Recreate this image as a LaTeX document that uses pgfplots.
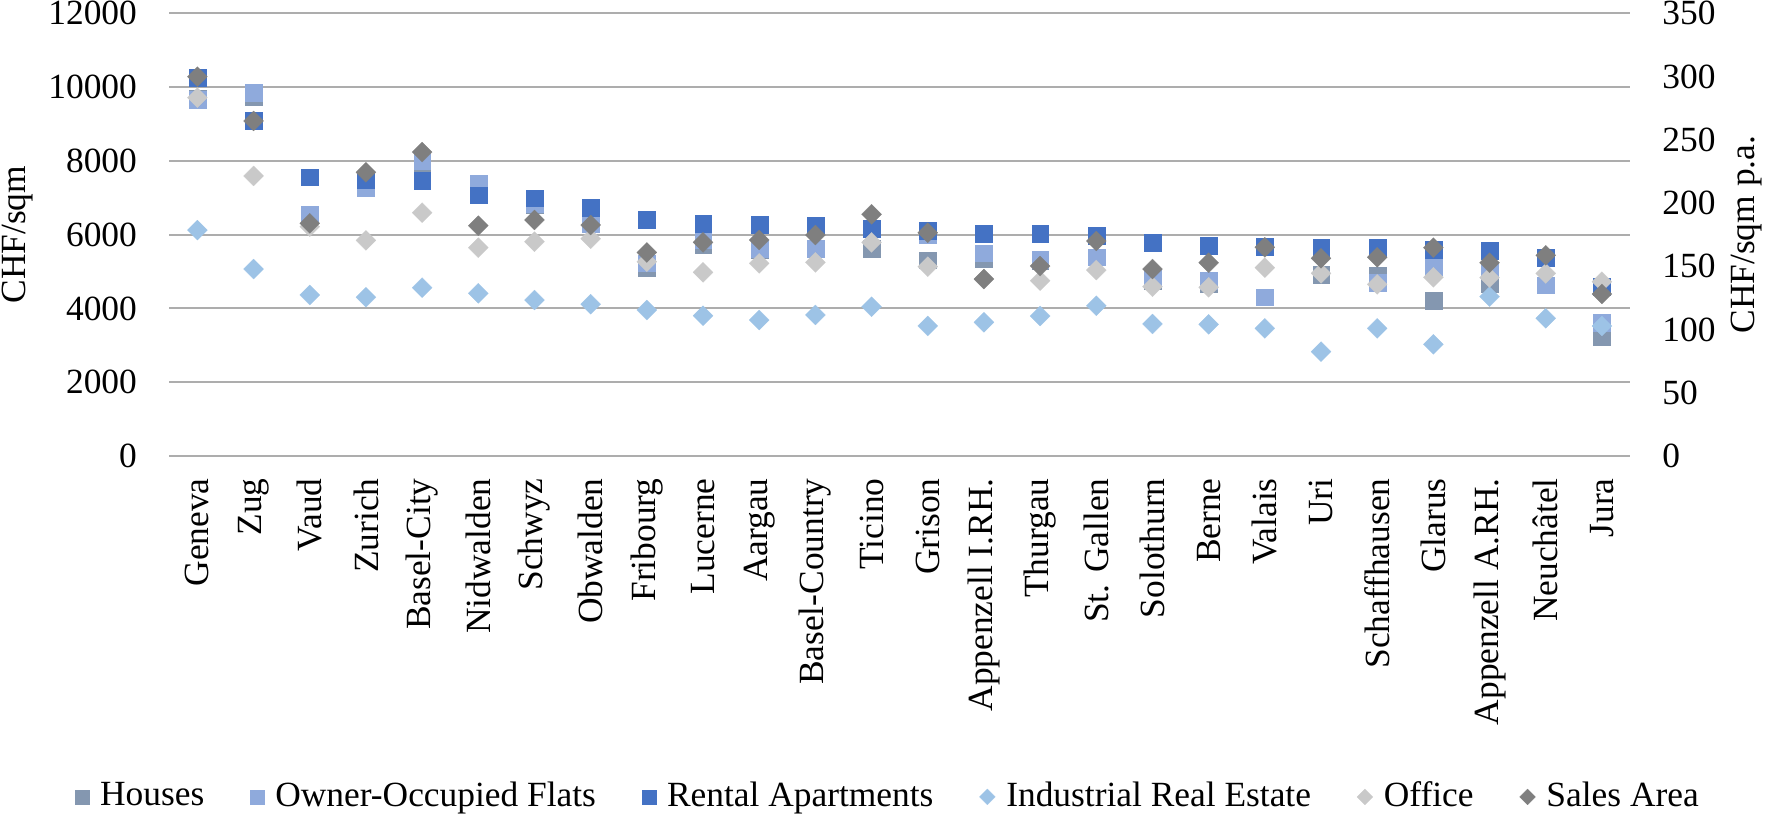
\documentclass[border=0pt]{standalone}
\usepackage{fontspec}
\setmainfont{Liberation Serif}
\usepackage{pgfplots}
\usepackage{pgfplotstable}
\pgfplotsset{compat=1.18}
\definecolor{cHouses}{HTML}{8497B0}
\definecolor{cOwner}{HTML}{8FAADC}
\definecolor{cRental}{HTML}{4472C4}
\definecolor{cIndustrial}{HTML}{9DC3E6}
\definecolor{cOffice}{HTML}{C9C9C9}
\definecolor{cSales}{HTML}{7F7F7F}
\definecolor{gridgray}{HTML}{ADADAD}
\newcommand\chartfont{\fontsize{17.7}{21}\selectfont}

% CHF/sqm (left axis)
\pgfplotstableread{
x houses owner rental
0 9700 9660 10250
1 9730 9850 9090
2 6540 6540 7560
3 7300 7260 7490
4 7950 8000 7470
5 7150 7380 7070
6 6810 6840 6990
7 6300 6300 6740
8 5110 5230 6415
9 5740 5860 6305
10 5600 5630 6280
11 5630 5630 6260
12 5630 6160 6160
13 5310 5990 6120
14 5360 5500 6035
15 5300 5330 6035
16 5390 5390 5970
17 4750 4820 5780
18 4660 4750 5710
19 5670 4310 5670
20 4920 5640 5640
21 4900 4700 5640
22 4210 5130 5590
23 4680 5040 5565
24 4635 4635 5375
25 3230 3610 4590
}\lefttable

% CHF/sqm p.a. (right axis)
\pgfplotstableread{
x industrial office sales
0 178.6 283.3 299.9
1 147.8 221.4 264.9
2 127.3 181.3 184.0
3 125.5 170.5 224.3
4 133.1 192.4 240.3
5 128.6 164.7 182.1
6 123.3 169.4 186.6
7 120.0 171.8 182.6
8 115.4 153.6 160.9
9 110.9 145.2 168.9
10 107.5 152.3 170.8
11 111.5 153.1 174.7
12 118.0 168.9 191.1
13 102.8 149.7 176.5
14 105.7 139.9 139.9
15 110.7 138.6 150.2
16 118.8 147.0 170.0
17 104.4 133.9 147.8
18 104.1 133.4 152.8
19 100.9 148.9 165.0
20 82.5 144.4 156.3
21 100.9 135.7 157.1
22 88.3 141.3 164.7
23 126.0 141.0 152.8
24 108.9 144.4 158.7
25 102.8 137.8 128.1
}\righttable

\begin{document}
\chartfont
\begin{tikzpicture}
\useasboundingbox (0,0) rectangle (886pt,408pt);
\pgfplotsset{
  common/.style={
    at={(84.65pt,180pt)}, anchor=south west,
    scale only axis, width=730.35pt, height=221.35pt,
    xmin=-0.5, xmax=25.5,
    scaled y ticks=false, scaled x ticks=false,
    axis line style={draw=none},
    major tick length=0pt,
    every tick label/.append style={font=\chartfont},
    every axis label/.append style={font=\chartfont},
    legend style={font=\chartfont},
  },
  sq/.style={only marks, mark=square*, mark size=4.2pt,
    mark options={solid, draw=#1, fill=#1, line width=0.1pt}},
  dm/.style={only marks, mark=square*, mark size=3.54pt,
    mark options={solid, rotate=45, draw=#1, fill=#1, line width=0.1pt}},
}
\begin{axis}[common,
  ymin=0, ymax=12000,
  ytick={0,2000,4000,6000,8000,10000,12000},
  yticklabels={0,2000,4000,6000,8000,10000,12000},
  ymajorgrids, grid style={line width=1pt, color=gridgray},
  yticklabel style={anchor=east, inner sep=0pt},
  yticklabel shift=16pt,
  xtick={0,...,25},
  xticklabels={Geneva,Zug,Vaud,Zurich,Basel-City,Nidwalden,Schwyz,Obwalden,Fribourg,Lucerne,Aargau,Basel-Country,Ticino,Grison,Appenzell I.RH.,Thurgau,St. Gallen,Solothurn,Berne,Valais,Uri,Schaffhausen,Glarus,Appenzell A.RH.,Neuchâtel,Jura},
  xticklabel style={rotate=90, anchor=east, inner sep=0pt},
  xticklabel shift=11pt,
  ylabel={CHF/sqm},
  every axis y label/.style={at={(axis description cs:-0.1040,0.5)}, rotate=90, anchor=center, font=\chartfont},
  legend columns=6,
  legend style={at={(axis description cs:0.4913,-0.770)}, anchor=center, draw=none, fill=none,
    inner sep=0pt, nodes={inner sep=0pt, anchor=west},
    /tikz/every odd column/.append style={column sep=5.5pt},
    /tikz/every even column/.append style={column sep=23pt}},
  legend image code/.code={\draw[#1] plot coordinates {(0pt,0pt)};},
]
\addplot[sq=cHouses, legend image post style={mark size=3.5pt}] table[x=x, y=houses] {\lefttable};
\addlegendentry{Houses}
\addplot[sq=cOwner, legend image post style={mark size=3.5pt}] table[x=x, y=owner] {\lefttable};
\addlegendentry{Owner-Occupied Flats}
\addplot[sq=cRental, legend image post style={mark size=3.5pt}] table[x=x, y=rental] {\lefttable};
\addlegendentry{Rental Apartments}
\addlegendimage{dm=cIndustrial, mark size=2.8pt}
\addlegendentry{Industrial Real Estate}
\addlegendimage{dm=cOffice, mark size=2.8pt}
\addlegendentry{Office}
\addlegendimage{dm=cSales, mark size=2.8pt}
\addlegendentry{Sales Area}
\end{axis}
\begin{axis}[common,
  ymin=0, ymax=350,
  ytick={0,50,100,150,200,250,300,350},
  yticklabels={0,50,100,150,200,250,300,350},
  ytick pos=right, yticklabel pos=right,
  yticklabel style={anchor=west, inner sep=0pt},
  yticklabel shift=16pt,
  xtick=\empty,
  ylabel={CHF/sqm p.a.},
  every axis y label/.style={at={(axis description cs:1.0801,0.5)}, rotate=90, anchor=center, font=\chartfont},
]
\addplot[dm=cIndustrial] table[x=x, y=industrial] {\righttable};
\addplot[dm=cOffice] table[x=x, y=office] {\righttable};
\addplot[dm=cSales] table[x=x, y=sales] {\righttable};
\end{axis}
\end{tikzpicture}
\end{document}
